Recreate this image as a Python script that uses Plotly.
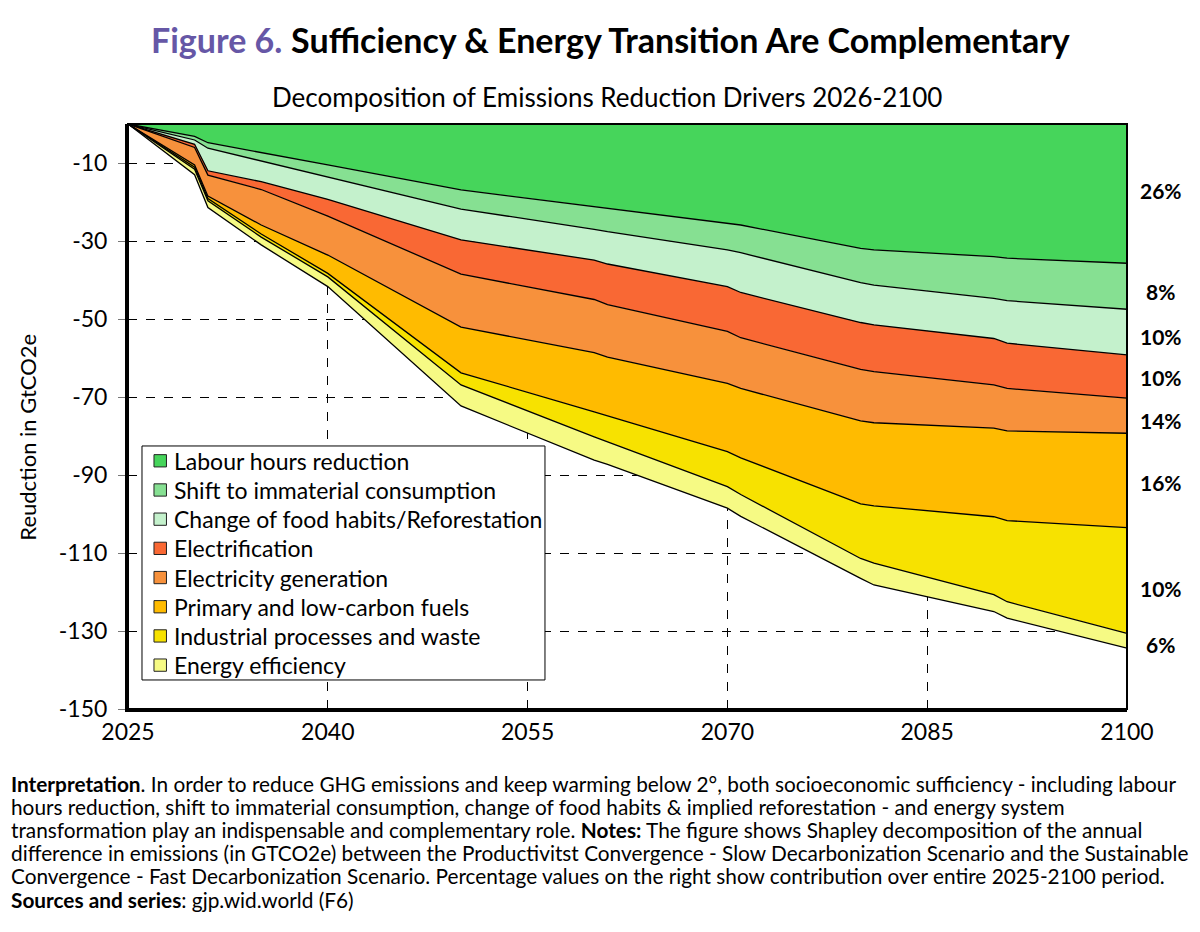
import plotly.graph_objects as go

# Années
annees = [2025, 2030, 2031, 2035, 2040, 2050, 2060, 2061, 2070, 2071, 2080, 2081, 2090, 2091, 2100]

# Contribution de chaque levier (GtCO2e, négatif = réduction)
labour = [0, -3.2, -4.8, -7.4, -10.5, -16.9, -21.2, -21.6, -25.5, -25.9, -31.9, -32.3, -34.0, -34.4, -35.7]
immaterial = [0, -0.9, -1.4, -2.1, -3.1, -4.9, -5.8, -6.0, -6.8, -7.1, -8.8, -9.0, -10.7, -10.9, -11.8]
food = [0, -1.1, -5.8, -5.3, -5.7, -7.9, -7.9, -8.3, -9.4, -10.2, -10.2, -10.2, -10.3, -10.9, -11.7]
electrification = [0, -0.8, -1.1, -2.0, -4.3, -8.8, -10.1, -10.4, -11.5, -11.6, -12.0, -12.0, -11.9, -11.6, -11.1]
elec_generation = [0, -4.5, -5.4, -9.1, -10.0, -13.6, -13.6, -13.5, -13.3, -13.0, -13.2, -13.1, -11.1, -10.9, -9.0]
primary_fuels = [0, -0.6, -0.6, -2.3, -4.7, -11.7, -15.2, -15.0, -17.5, -17.8, -21.3, -21.3, -22.7, -23.0, -24.2]
industrial = [0, -0.5, -0.6, -0.8, -0.9, -3.1, -6.4, -6.7, -9.0, -9.4, -14.0, -14.7, -20.0, -20.8, -27.1]
efficiency = [0, -1.4, -1.7, -2.0, -2.5, -5.4, -6.0, -5.8, -5.5, -5.6, -5.1, -5.6, -4.3, -4.2, -3.8]

series = [
    ("Labour hours reduction", labour, "#46D55B"),
    ("Shift to immaterial consumption", immaterial, "#86E092"),
    ("Change of food habits/Reforestation", food, "#C4F1CC"),
    ("Electrification", electrification, "#F96834"),
    ("Electricity generation", elec_generation, "#F7913C"),
    ("Primary and low-carbon fuels", primary_fuels, "#FFBB00"),
    ("Industrial processes and waste", industrial, "#F7E200"),
    ("Energy efficiency", efficiency, "#F6FA84"),
]

# Parts sur toute la période (étiquettes à droite) et leur hauteur
parts = ["26%", "8%", "10%", "10%", "14%", "16%", "10%", "6%"]
parts_y = [-17, -43, -54.5, -65, -76, -92, -119, -133.5]

y_ticks = [-10, -30, -50, -70, -90, -110, -130, -150]
x_ticks = [2025, 2040, 2055, 2070, 2085, 2100]

notes = [
    "<b>Interpretation</b>. In order to reduce GHG emissions and keep warming below 2°, both socioeconomic sufficiency - including labour",
    "hours reduction, shift to immaterial consumption, change of food habits &amp; implied reforestation - and energy system",
    "transformation play an indispensable and complementary role. <b>Notes:</b> The figure shows Shapley decomposition of the annual",
    "difference in emissions (in GTCO2e) between the Productivitst Convergence - Slow Decarbonization Scenario and the Sustainable",
    "Convergence - Fast Decarbonization Scenario. Percentage values on the right show contribution over entire 2025-2100 period.",
    "<b>Sources and series</b>: gjp.wid.world (F6)",
]

FONT = "Lato, 'Open Sans', sans-serif"

fig = go.Figure()
for nom, vals, cor in series:
    fig.add_trace(go.Scatter(
        x=annees, y=vals, name=nom, mode="lines",
        stackgroup="one", fillcolor=cor,
        line=dict(color="black", width=1.3),
    ))

for txt, yv in zip(parts, parts_y):
    fig.add_annotation(
        x=1.034, xref="paper", y=yv, yref="y", text=f"<b>{txt}</b>",
        showarrow=False, xanchor="center", font=dict(size=21, color="black"),
    )

# cadre fin en haut / à droite
fig.add_shape(type="rect", xref="paper", yref="paper", x0=0, x1=1, y0=0, y1=1,
              line=dict(color="black", width=2))

# légende dessinée à la main (carrés + textes) pour coller au modèle
fig.add_shape(type="rect", xref="paper", yref="paper",
              x0=0.014, x1=0.4174, y0=0.0496, y1=0.4496,
              line=dict(color="black", width=1), fillcolor="white", layer="above")
for i, (nom, _, cor) in enumerate(series):
    yc = 0.4243 - i * 0.0499
    fig.add_shape(type="rect", xref="paper", yref="paper",
                  x0=0.026, x1=0.0385, y0=yc - 0.0105, y1=yc + 0.0105,
                  line=dict(color="#222222", width=1), fillcolor=cor, layer="above")
    fig.add_annotation(x=0.0445, xref="paper", y=yc, yref="paper",
                       xanchor="left", yanchor="middle", text=nom, showarrow=False,
                       font=dict(size=23, color="black"))

fig.add_annotation(
    x=0.4825, xref="paper", y=1.1436, yref="paper", yanchor="middle",
    text="<span style='color:#6657A6'><b>Figure 6.</b></span> <b>Sufficiency &amp; Energy Transition Are Complementary</b>",
    showarrow=False, font=dict(size=34, color="black"),
)
fig.add_annotation(
    x=0.479, xref="paper", y=1.046, yref="paper", yanchor="middle",
    text="Decomposition of Emissions Reduction Drivers 2026-2100",
    showarrow=False, font=dict(size=26, color="black"),
)

# titre de l'axe y
fig.add_annotation(
    x=-0.101, xref="paper", y=0.464, yref="paper", textangle=-90,
    xanchor="center", yanchor="middle", text="Reudction in GtCO2e",
    showarrow=False, font=dict(size=22, color="black"),
)

# notes en bas, une annotation par ligne (interligne serré)
for i, ligne in enumerate(notes):
    fig.add_annotation(
        x=-0.1195, xref="paper", y=-0.1265 - i * 0.0397, yref="paper",
        xanchor="left", yanchor="middle", text=ligne, align="left",
        showarrow=False, font=dict(size=20.8, color="black"),
    )

# la page ajoute 8 px de marge : la figure est réduite d'autant
fig.update_layout(
    width=1192, height=924,
    margin=dict(l=120, r=73, t=116, b=223),
    paper_bgcolor="white", plot_bgcolor="white",
    font=dict(family=FONT, color="black"),
    showlegend=False,
    xaxis=dict(
        range=[2025, 2100], tickvals=x_ticks, tickfont=dict(size=23),
        showgrid=True, gridcolor="black", griddash="dash", gridwidth=1,
        showline=True, linecolor="black", linewidth=3,
        ticks="", zeroline=False,
    ),
    yaxis=dict(
        range=[-150, 0], tickvals=y_ticks, ticktext=[str(v) for v in y_ticks],
        tickfont=dict(size=23), ticklabelstandoff=6,
        showgrid=True, gridcolor="black", griddash="dash", gridwidth=1,
        showline=True, linecolor="black", linewidth=3,
        ticks="outside", ticklen=7, tickcolor="#777777", zeroline=False,
    ),
)

fig.write_html("out.html")
